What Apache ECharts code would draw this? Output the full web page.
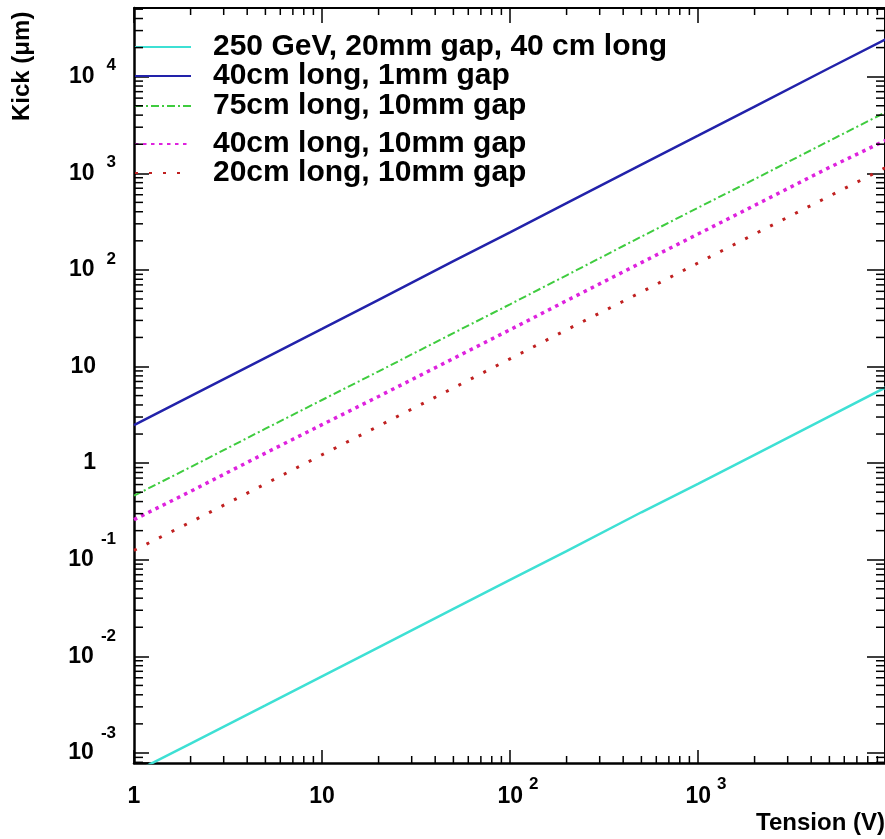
<!DOCTYPE html>
<html>
<head>
<meta charset="utf-8">
<script src="https://cdn.jsdelivr.net/npm/echarts@6/dist/echarts.min.js"></script>
<style>
html,body{margin:0;padding:0;background:#fff;}
#chart{width:885px;height:839px;}
</style>
</head>
<body>
<div id="chart"></div>
<script>
// ---- data ----
const tension = [1, 2, 5, 10, 20, 50, 100, 200, 500, 1000, 2000, 5000, 10000];
const kick250GeV = [6.3e-4, 1.25e-3, 3.1e-3, 6.2e-3, 1.24e-2, 3.1e-2, 6.2e-2, 0.123, 0.31, 0.61, 1.22, 3.05, 6.1];
const kick40cm1mm = [2.47, 4.95, 12.3, 24.5, 49, 123, 245, 490, 1230, 2450, 4900, 12300, 24500];
const kick75cm10mm = [0.46, 0.91, 2.27, 4.5, 8.9, 22.2, 44, 88, 221, 440, 870, 2170, 4300];
const kick40cm10mm = [0.26, 0.51, 1.27, 2.5, 4.9, 12.1, 24, 48, 119, 235, 465, 1150, 2200];
const kick20cm10mm = [0.125, 0.245, 0.61, 1.22, 2.42, 6.0, 12, 24, 59, 118, 235, 580, 1150];
const seriesNames = ['250 GeV, 20mm gap, 40 cm long', '40cm long, 1mm gap', '75cm long, 10mm gap', '40cm long, 10mm gap', '20cm long, 10mm gap'];
const xMin = 1, xMax = 9880;
const yMin = 7.87e-4, yMax = 5.14e4;
const xTitle = 'Tension (V)';
const yTitle = 'Kick (\u03bcm)';

const FONT = 'Liberation Sans, Arial, Helvetica, sans-serif';

function pair(ys) { return tension.map((x, i) => [x, ys[i]]); }

// minor tick positions (2..9 within each decade)
const minorTicks = [];
for (let e = 0; e <= 4; e++) for (let k = 2; k <= 9; k++) {
  const v = k * Math.pow(10, e);
  if (v > xMin && v < xMax) { minorTicks.push([v, yMin, 0]); minorTicks.push([v, yMax, 1]); }
}
for (let e = -4; e <= 5; e++) for (let k = 2; k <= 9; k++) {
  const v = k * Math.pow(10, e);
  if (v > yMin && v < yMax) { minorTicks.push([xMin, v, 2]); minorTicks.push([xMax, v, 3]); }
}

function powInfo(v) {
  const l = Math.log10(v);
  const e = Math.round(l);
  if (Math.abs(l - e) > 1e-6) return null;
  return e;
}
function yLabel(v) {
  const e = powInfo(v);
  if (e === null) return '';
  if (e === 0) return '{p|1}';
  if (e === 1) return '{p|10}';
  return '{b|10}{' + (e < 0 ? 'n' : 'e') + '|' + e + '}';
}
function xLabel(v) {
  const e = powInfo(v);
  if (e === null) return '';
  if (e === 0) return '{p|1}';
  if (e === 1) return '{p|10}';
  return '{b|10}{e|' + e + '}';
}

const baseLabel = {fontFamily: FONT, fontWeight: 'bold', color: '#000'};
const yRich = {
  p: Object.assign({fontSize: 23, lineHeight: 40, padding: [0, 20, 0, 0]}, baseLabel),
  b: Object.assign({fontSize: 23, lineHeight: 40}, baseLabel),
  e: Object.assign({fontSize: 17, lineHeight: 40, padding: [0, 0, 22, 12]}, baseLabel),
  n: Object.assign({fontSize: 17, lineHeight: 40, padding: [0, 0, 40, 7]}, baseLabel)
};
const xRich = {
  p: Object.assign({fontSize: 23, lineHeight: 40}, baseLabel),
  b: Object.assign({fontSize: 23, lineHeight: 40, padding: [0, 0, 0, 16]}, baseLabel),
  e: Object.assign({fontSize: 17, lineHeight: 40, padding: [0, 0, 26, 6]}, baseLabel)
};

const chart = echarts.init(document.getElementById('chart'), null, {renderer: 'canvas'});

const colors = ['#3ee0d4', '#2222aa', '#3fcc3f', '#de22de', '#c02020'];
const lineStyles = [
  {width: 2.5, type: 'solid'},
  {width: 2.5, type: 'solid'},
  {width: 2, type: [8, 3, 2, 3]},
  {width: 3.5, type: [3.5, 4.5]},
  {width: 3, type: [3, 11]}
];
const seriesData = [kick250GeV, kick40cm1mm, kick75cm10mm, kick40cm10mm, kick20cm10mm];
const legendCenters = [47, 76, 106, 144, 173];

const series = seriesNames.map((name, i) => ({
  name: name,
  type: 'line',
  data: pair(seriesData[i]),
  symbol: 'none',
  showSymbol: false,
  clip: true,
  color: colors[i],
  lineStyle: Object.assign({color: colors[i]}, lineStyles[i]),
  z: 3
}));
series.push({
  type: 'custom',
  name: 'minorTicks',
  data: minorTicks,
  silent: true,
  clip: false,
  z: 5,
  renderItem: function (params, api) {
    const p = api.coord([api.value(0), api.value(1)]);
    const k = api.value(2);
    let x2 = p[0], y2 = p[1];
    if (k === 0) y2 -= 7;
    else if (k === 1) y2 += 7;
    else if (k === 2) x2 += 9;
    else x2 -= 9;
    return {type: 'line', shape: {x1: p[0], y1: p[1], x2: x2, y2: y2}, style: {stroke: '#000', lineWidth: 1.5}};
  }
});

const legends = seriesNames.map((name, i) => ({
  data: [{name: name}],
  left: 134,
  top: legendCenters[i] - 15,
  padding: 0,
  itemWidth: 56,
  itemHeight: 14,
  selectedMode: false,
  itemStyle: {opacity: 0, borderWidth: 0},
  textStyle: {fontFamily: FONT, fontWeight: 'bold', fontSize: 30, lineHeight: 30, color: '#000', padding: [0, 0, 0, 17]}
}));

function axisCommon(extra) {
  return Object.assign({
    type: 'log', logBase: 10,
    splitLine: {show: false},
    axisLine: {show: true, onZero: false, lineStyle: {color: '#000', width: 2.5}},
    axisTick: {show: true, inside: true, lineStyle: {color: '#000', width: 1.5}}
  }, extra);
}

chart.setOption({
  animation: false,
  backgroundColor: '#fff',
  grid: {left: 134, right: 0, top: 8, bottom: 76, containLabel: false, outerBoundsMode: 'none'},
  legend: legends,
  xAxis: [
    axisCommon({min: xMin, max: xMax, position: 'bottom',
      axisTick: {show: true, inside: true, length: 13, lineStyle: {color: '#000', width: 1.5}},
      axisLabel: {formatter: xLabel, rich: xRich, margin: 14, showMinLabel: true, showMaxLabel: true}}),
    axisCommon({min: xMin, max: xMax, position: 'top',
      axisLine: {show: true, onZero: false, lineStyle: {color: '#000', width: 2}},
      axisTick: {show: true, inside: true, length: 15, lineStyle: {color: '#000', width: 1.5}},
      axisLabel: {show: false}})
  ],
  yAxis: [
    axisCommon({min: yMin, max: yMax, position: 'left',
      axisTick: {show: true, inside: true, length: 15, lineStyle: {color: '#000', width: 1.5}},
      axisLabel: {formatter: yLabel, rich: yRich, margin: 18, align: 'right'}}),
    axisCommon({min: yMin, max: yMax, position: 'right',
      axisLine: {show: true, onZero: false, lineStyle: {color: '#000', width: 2}},
      axisTick: {show: true, inside: true, length: 18, lineStyle: {color: '#000', width: 1.5}},
      axisLabel: {show: false}})
  ],
  graphic: [
    {type: 'text', x: 22, y: 121, rotation: Math.PI / 2,
     style: {text: yTitle, font: 'bold 24px ' + FONT, fill: '#000', textAlign: 'left', textVerticalAlign: 'middle'}},
    {type: 'text', right: 0, top: 811,
     style: {text: xTitle, font: 'bold 24px ' + FONT, fill: '#000'}}
  ],
  series: series
});
</script>
</body>
</html>
